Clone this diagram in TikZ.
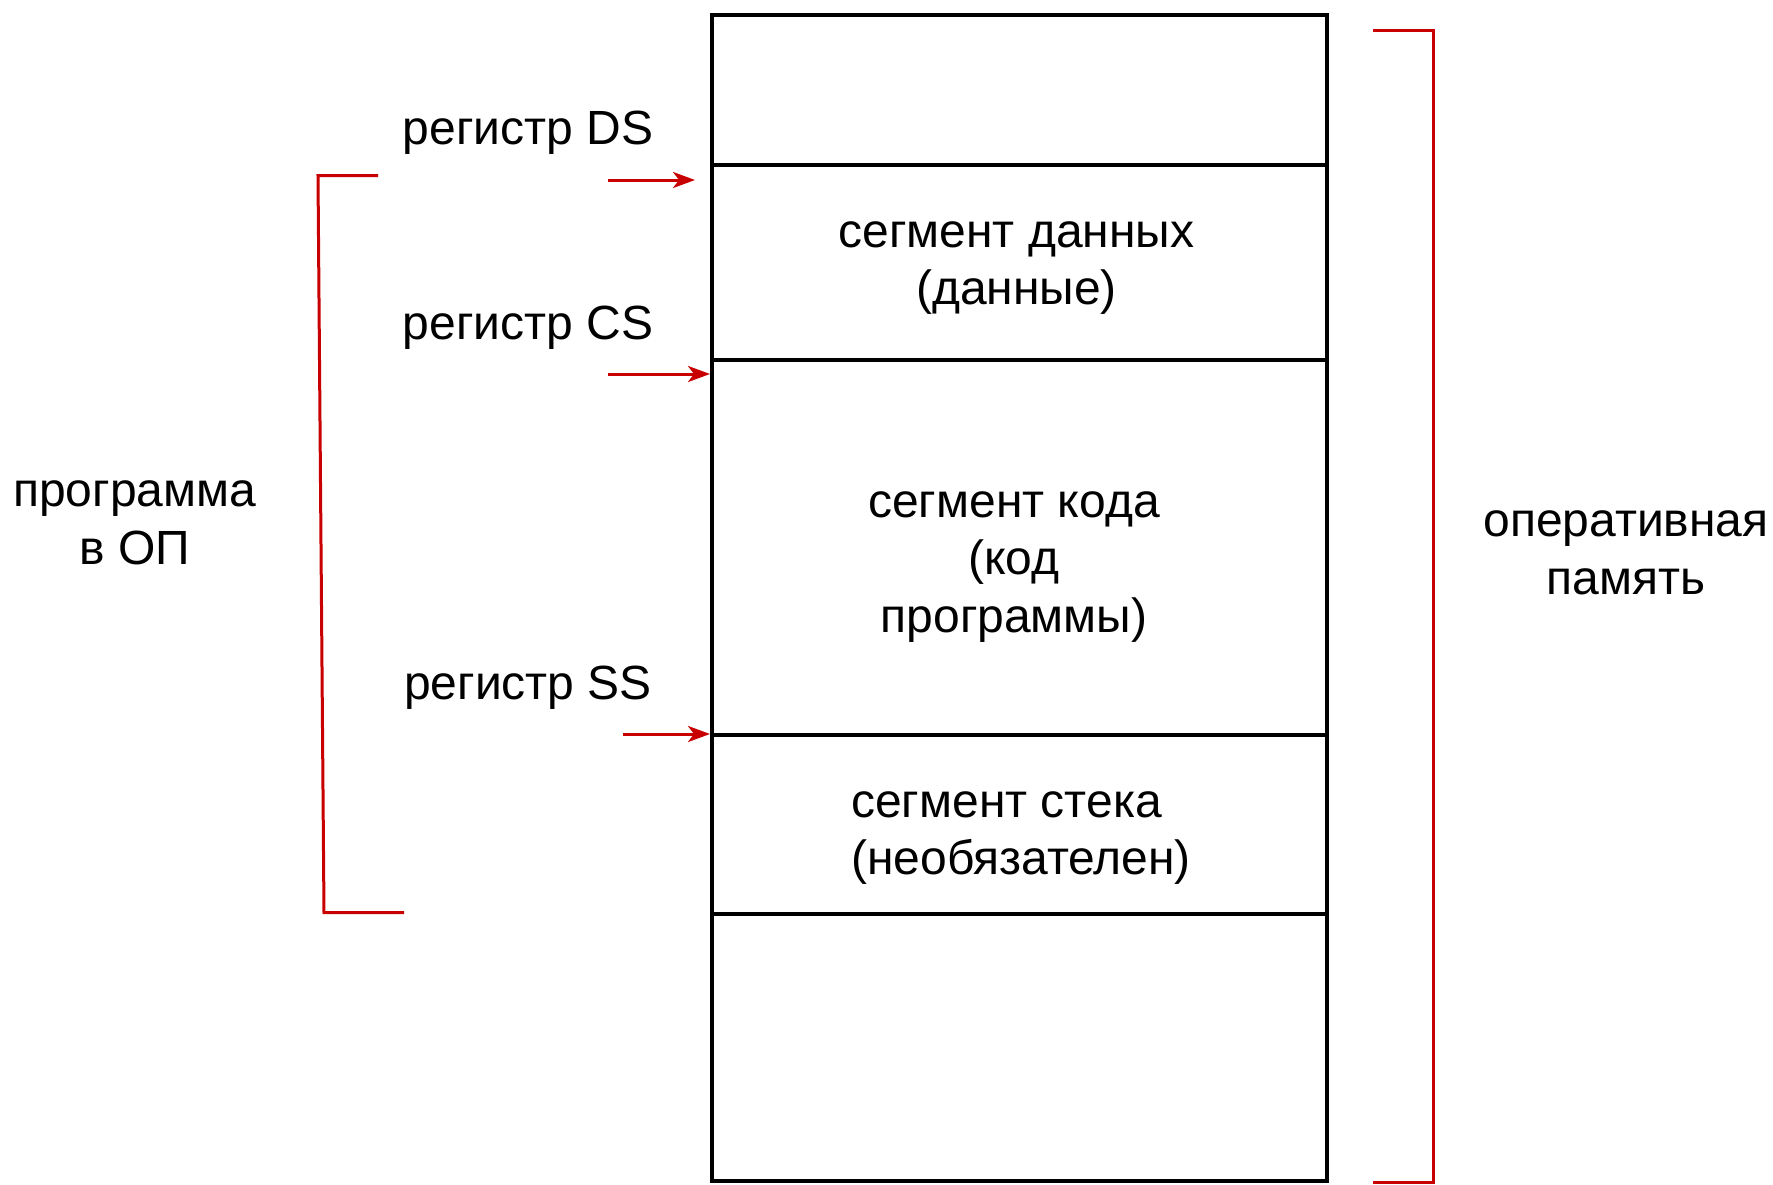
\documentclass[tikz,border=0pt]{standalone}
\usepackage{fontspec}
\setmainfont{Liberation Sans}
\usetikzlibrary{arrows.meta}
\definecolor{bred}{RGB}{200,0,0}
\begin{document}
\begin{tikzpicture}[x=1pt,y=-1pt,
  seg/.style={draw=black,line width=4pt,minimum width=615pt,inner sep=0pt,anchor=center},
  txt/.style={font=\fontsize{48}{57.6}\selectfont,align=center,inner sep=0pt},
  bracket/.style={draw=bred,line width=3pt},
  ptr/.style={draw=bred,line width=3pt,-{Stealth[length=22pt,width=16pt,inset=6pt]}}]
\useasboundingbox (0,0) rectangle (1773,1184);
\fill[white] (0,0) rectangle (1773,1184);
% memory column
\node[seg,minimum height=150.3pt] (s0) at (1019.5,89.9) {};
\node[seg,minimum height=194.6pt] (s1) at (1019.5,262.3) {};
\node[seg,minimum height=375.4pt] (s2) at (1019.5,547.3) {};
\node[seg,minimum height=178.6pt] (s3) at (1019.5,824.3) {};
\node[seg,minimum height=267.4pt] (s4) at (1019.5,1047.3) {};
% segment texts
\node[txt] (t1) at (1016.5,268) {сегмент данных\\(данные)};
\node[txt] (t2) at (1014,567) {сегмент кода\\(код\\программы)};
\node[txt,align=left,anchor=west] (t3) at (851,838) {сегмент стека\\(необязателен)};
% register labels
\node[txt] (ds) at (528,133) {регистр DS};
\node[txt] (cs) at (528,328) {регистр CS};
\node[txt] (ss) at (528,688) {регистр SS};
% arrows
\coordinate (dsS) at (608,180);
\coordinate (csS) at (608,374);
\coordinate (ssS) at (623,734);
\draw[ptr,shorten >=15pt] (dsS) -- (s1.west |- dsS);
\draw[ptr] (csS) -- (s2.west |- csS);
\draw[ptr] (ssS) -- (s3.west |- ssS);
% left bracket
\node[txt] (prog) at (134.6,523) {программа\\в ОП};
\coordinate (lb1) at (378,175.7);
\coordinate (lb2) at (318,175.7);
\coordinate (lb3) at (324,912.7);
\coordinate (lb4) at (404,912.7);
\draw[bracket] (lb1) -- (lb2) -- (lb3) -- (lb4);
% right bracket
\node[txt] (mem) at (1626,553) {оперативная\\память};
\coordinate (rb1) at (1373,30);
\coordinate (rb2) at (1433,30);
\coordinate (rb3) at (1433,1182.5);
\coordinate (rb4) at (1373,1182.5);
\draw[bracket] (rb1) -- (rb2) -- (rb3) -- (rb4);
\end{tikzpicture}
\end{document}
